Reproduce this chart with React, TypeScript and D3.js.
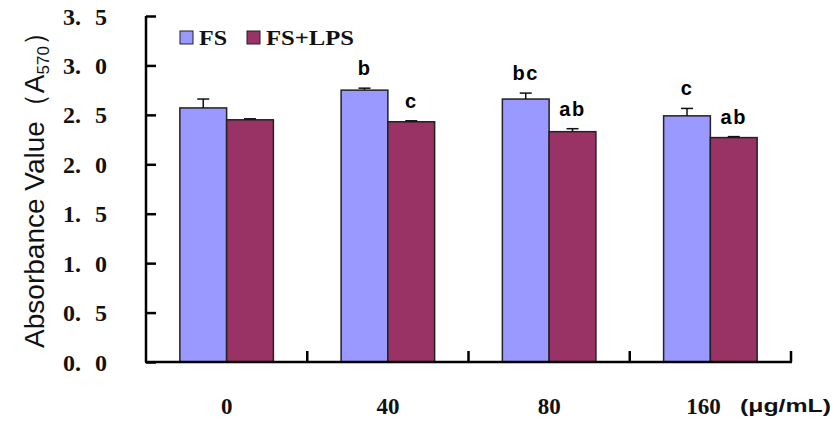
import React, { useEffect, useRef } from "react";
import * as d3 from "d3";

const categories = ["0", "40", "80", "160"];
const seriesNames = ["FS", "FS+LPS"];
const fsValues = [2.57, 2.75, 2.66, 2.49];
const fsErrors = [0.09, 0.02, 0.06, 0.075];
const lpsValues = [2.45, 2.43, 2.33, 2.27];
const lpsErrors = [0.01, 0.01, 0.03, 0.01];
const fsLetters = ["", "b", "bc", "c"];
const lpsLetters = ["", "c", "ab", "ab"];
const yTicks = [0, 0.5, 1, 1.5, 2, 2.5, 3, 3.5];
const colors = ["#9999ff", "#993366"];

export default function App() {
  const svgRef = useRef<SVGSVGElement | null>(null);

  const width = 834;
  const height = 421;
  const marginLeft = 146;
  const marginRight = 43;
  const marginTop = 16;
  const marginBottom = 59;

  useEffect(() => {
    const svg = d3.select(svgRef.current);
    svg.selectAll("*").remove();

    // Scales
    const x = d3.scaleBand()
      .domain(categories)
      .range([marginLeft, width - marginRight])
      .paddingInner(0.42)
      .paddingOuter(0.21);

    const sub = d3.scaleBand()
      .domain(seriesNames)
      .range([0, x.bandwidth()]);

    const y = d3.scaleLinear()
      .domain([0, 3.5])
      .range([height - marginBottom, marginTop]);

    const rows = categories.map((c, i) => ({
      cat: c,
      items: [
        { s: seriesNames[0], v: fsValues[i], e: fsErrors[i], l: fsLetters[i], color: colors[0] },
        { s: seriesNames[1], v: lpsValues[i], e: lpsErrors[i], l: lpsLetters[i], color: colors[1] },
      ],
    }));

    const groups = svg.append("g")
      .selectAll("g")
      .data(rows)
      .join("g")
      .attr("transform", (d) => `translate(${x(d.cat)},0)`);

    // bars
    groups.selectAll("rect")
      .data((d) => d.items)
      .join("rect")
      .attr("x", (d) => sub(d.s)!)
      .attr("y", (d) => y(d.v))
      .attr("width", sub.bandwidth())
      .attr("height", (d) => y(0) - y(d.v))
      .attr("fill", (d) => d.color)
      .attr("stroke", "#222")
      .attr("stroke-width", 1.5);

    // error bars (upper only)
    const err = groups.selectAll("g.err")
      .data((d) => d.items)
      .join("g")
      .attr("class", "err")
      .attr("stroke", "#111")
      .attr("stroke-width", 1.5);
    err.append("line")
      .attr("x1", (d) => sub(d.s)! + sub.bandwidth() / 2)
      .attr("x2", (d) => sub(d.s)! + sub.bandwidth() / 2)
      .attr("y1", (d) => y(d.v))
      .attr("y2", (d) => y(d.v + d.e));
    err.append("line")
      .attr("x1", (d) => sub(d.s)! + sub.bandwidth() / 2 - 6)
      .attr("x2", (d) => sub(d.s)! + sub.bandwidth() / 2 + 6)
      .attr("y1", (d) => y(d.v + d.e))
      .attr("y2", (d) => y(d.v + d.e));

    // significance letters
    groups.selectAll("text.sig")
      .data((d) => d.items)
      .join("text")
      .attr("class", "sig")
      .attr("x", (d) => sub(d.s)! + sub.bandwidth() / 2)
      .attr("y", (d) => y(d.v + d.e) - 13)
      .attr("text-anchor", "middle")
      .attr("font-family", "Liberation Sans, Arial, sans-serif")
      .attr("font-weight", "bold")
      .attr("font-size", 20)
      .attr("letter-spacing", 1.5)
      .attr("fill", "#000")
      .text((d) => d.l);

    // y axis
    svg.append("g")
      .attr("transform", `translate(${marginLeft},0)`)
      .call(d3.axisRight(y).tickValues(yTicks).tickSize(10).tickFormat(() => ""))
      .call((g) => g.select(".domain").attr("stroke-width", 2.5).attr("d", `M0,${y(3.5)}V${y(0)}`))
      .call((g) => g.selectAll(".tick line").attr("stroke-width", 2.5));

    const yLabels = svg.append("g")
      .attr("font-family", "Liberation Serif, Times New Roman, serif")
      .attr("font-weight", "bold")
      .attr("font-size", 24)
      .attr("fill", "#111")
      .selectAll("text")
      .data(yTicks)
      .join("text")
      .attr("y", (d) => y(d))
      .attr("dy", "0.36em");
    yLabels.append("tspan")
      .attr("x", 63)
      .text((d) => d.toFixed(1).split(".")[0] + ".");
    yLabels.append("tspan")
      .attr("x", 95)
      .text((d) => d.toFixed(1).split(".")[1]);

    // x axis
    const step = x.step();
    const boundaries = categories.map((c) => x(c)! + x.bandwidth() + step * x.paddingInner() / 2);
    svg.append("line")
      .attr("x1", marginLeft - 1)
      .attr("x2", width - marginRight + 1)
      .attr("y1", y(0))
      .attr("y2", y(0))
      .attr("stroke", "#000")
      .attr("stroke-width", 2.5);
    svg.append("g")
      .selectAll("line")
      .data(boundaries)
      .join("line")
      .attr("x1", (d) => d)
      .attr("x2", (d) => d)
      .attr("y1", y(0))
      .attr("y2", y(0) - 11)
      .attr("stroke", "#000")
      .attr("stroke-width", 2.5);

    svg.append("g")
      .selectAll("text")
      .data(categories)
      .join("text")
      .attr("x", (d, i) => x(d)! + x.bandwidth() / 2 + (i === 3 ? -7 : 0))
      .attr("y", 414)
      .attr("text-anchor", "middle")
      .attr("font-family", "Liberation Serif, Times New Roman, serif")
      .attr("font-weight", "bold")
      .attr("font-size", 23)
      .attr("fill", "#111")
      .text((d) => d);

    svg.append("text")
      .attr("x", 740)
      .attr("y", 412)
      .attr("textLength", 91)
      .attr("lengthAdjust", "spacingAndGlyphs")
      .attr("font-family", "Liberation Sans, Arial, sans-serif")
      .attr("font-weight", "bold")
      .attr("font-size", 18)
      .attr("fill", "#111")
      .text("(μg/mL)");

    // y title
    const title = svg.append("text")
      .attr("transform", `translate(44,${183}) rotate(-90)`)
      .attr("text-anchor", "middle")
      .attr("font-family", "Liberation Sans, Arial, sans-serif")
      .attr("font-size", 28)
      .attr("fill", "#111");
    title.append("tspan").text("Absorbance Value（A");
    title.append("tspan").attr("font-size", 17).attr("dy", 5).text("570");
    title.append("tspan").attr("dy", -5).text("）");

    // legend
    const legend = svg.append("g")
      .selectAll("g")
      .data(seriesNames)
      .join("g")
      .attr("transform", (d, i) => `translate(${180 + i * 67},31)`);
    legend.append("rect")
      .attr("width", 13)
      .attr("height", 13)
      .attr("fill", (d, i) => colors[i])
      .attr("stroke", "#222")
      .attr("stroke-width", 1);
    legend.append("text")
      .attr("x", 19)
      .attr("y", 14)
      .attr("textLength", (d, i) => (i === 0 ? 28 : 88))
      .attr("lengthAdjust", "spacingAndGlyphs")
      .attr("font-family", "Liberation Serif, Times New Roman, serif")
      .attr("font-weight", "bold")
      .attr("font-size", 20)
      .attr("fill", "#111")
      .text((d) => d);
  }, []);

  return (
    <svg
      ref={svgRef}
      width={width}
      height={height}
      style={{ position: "absolute", left: 0, top: 0, background: "#fff" }}
    />
  );
}
